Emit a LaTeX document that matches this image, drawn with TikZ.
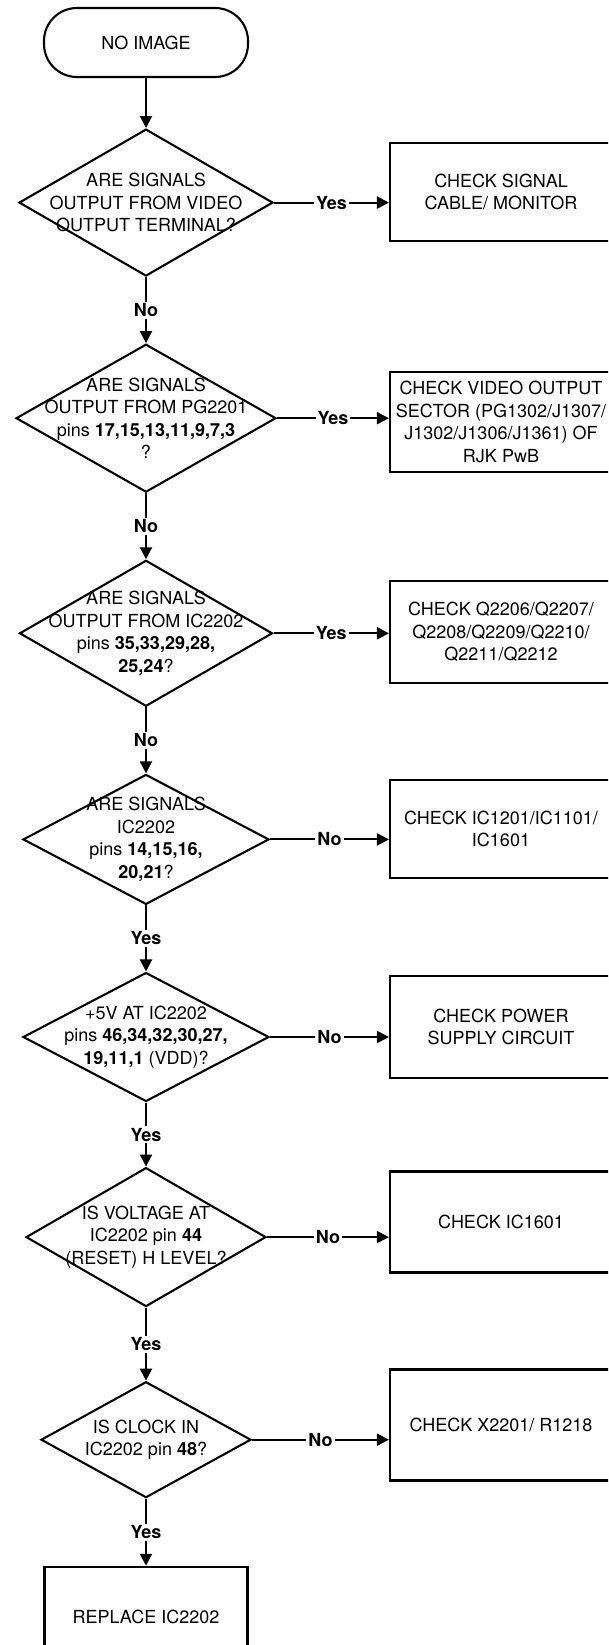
\documentclass[tikz,border=0pt]{standalone}
\usepackage{fontspec}
\setmainfont{TeX Gyre Heros}
\usetikzlibrary{arrows.meta,positioning,shapes.geometric}

\begin{document}
\begin{tikzpicture}[
    x=1pt, y=-1pt,
    node distance=66pt,
    every node/.style={font=\fontsize{18}{22.5}\selectfont},
    termbox/.style={
      rectangle, rounded corners=33pt, draw, line width=2.1pt,
      minimum width=204pt, minimum height=69pt
    },
    askbox/.style 2 args={
      diamond, draw, line width=2.1pt, inner sep=0pt,
      minimum width=#1, minimum height=#2
    },
    asktext/.style={align=center, inner sep=0pt},
    checkbox/.style={
      rectangle, draw, line width=2.1pt, inner sep=3pt,
      minimum width=222pt, minimum height=#1, align=center
    },
    flowarr/.style={-{Triangle[length=12pt,width=12pt]}, line width=2.1pt},
    ynlabel/.style={fill=white, inner sep=2pt, font=\fontsize{18}{22}\selectfont\bfseries}
  ]
    \useasboundingbox (0,0) rectangle (608,1645);
    \clip (0,0) rectangle (608,1645);

    % -- main column --
    \node[termbox] (t0) at (146,42.5) {NO IMAGE};
    \node[askbox={254pt}{147pt}, below=50pt of t0,
      label={[asktext]center:{ARE SIGNALS\\OUTPUT FROM VIDEO\\OUTPUT TERMINAL?}}] (d1) {};
    \node[askbox={260pt}{148pt}, below=of d1,
      label={[asktext]center:{ARE SIGNALS\\OUTPUT FROM PG2201\\pins \textbf{17,15,13,11,9,7,3}\\?}}] (d2) {};
    \node[askbox={253pt}{146pt}, below=of d2,
      label={[asktext]center:{ARE SIGNALS\\OUTPUT FROM IC2202\\pins \textbf{35,33,29,28,}\\\textbf{25,24}?}}] (d3) {};
    \node[askbox={246pt}{130pt}, below=of d3,
      label={[asktext]center:{ARE SIGNALS\\IC2202\\pins \textbf{14,15,16,}\\\textbf{20,21}?}}] (d4) {};
    \node[askbox={246pt}{129pt}, below=of d4,
      label={[asktext]center:{+5V AT IC2202\\pins \textbf{46,34,32,30,27,}\\\textbf{19,11,1} (VDD)?}}] (d5) {};
    \node[askbox={240pt}{139pt}, below=64pt of d5,
      label={[asktext]center:{IS VOLTAGE AT\\IC2202 pin \textbf{44}\\(RESET) H LEVEL?}}] (d6) {};
    \node[askbox={210pt}{116pt}, below=73pt of d6,
      label={[asktext]center:{IS CLOCK IN\\IC2202 pin \textbf{48}?}}] (d7) {};
    \node[checkbox=100pt, minimum width=203pt, below=67pt of d7] (b8) {REPLACE IC2202};

    % -- check boxes (right column) --
    \node[checkbox=98pt] (c1) at (501,192) {CHECK SIGNAL\\CABLE/ MONITOR};
    \node[checkbox=100pt] (c2) at (501,422) {CHECK VIDEO OUTPUT\\SECTOR (PG1302/J1307/\\J1302/J1306/J1361) OF\\RJK PwB};
    \node[checkbox=102pt] (c3) at (501,632) {CHECK Q2206/Q2207/\\Q2208/Q2209/Q2210/\\Q2211/Q2212};
    \node[checkbox=98pt] (c4) at (501,829) {CHECK IC1201/IC1101/\\IC1601};
    \node[checkbox=102pt] (c5) at (501,1027) {CHECK POWER\\SUPPLY CIRCUIT};
    \node[checkbox=101pt] (c6) at (501,1222) {CHECK IC1601};
    \node[checkbox=111pt] (c7) at (501,1425) {CHECK X2201/ R1218};

    % -- down the column --
    \draw[flowarr] (t0) -- (d1);
    \draw[flowarr] (d1) -- node[ynlabel] {No} (d2);
    \draw[flowarr] (d2) -- node[ynlabel] {No} (d3);
    \draw[flowarr] (d3) -- node[ynlabel] {No} (d4);
    \draw[flowarr] (d4) -- node[ynlabel] {Yes} (d5);
    \draw[flowarr] (d5) -- node[ynlabel] {Yes} (d6);
    \draw[flowarr] (d6) -- node[ynlabel] {Yes} (d7);
    \draw[flowarr] (d7) -- node[ynlabel] {Yes} (b8);

    % -- across to the checks --
    \draw[flowarr] (d1.east) -- node[ynlabel] {Yes} (d1.east -| c1.west);
    \draw[flowarr] (d2.east) -- node[ynlabel] {Yes} (d2.east -| c2.west);
    \draw[flowarr] (d3.east) -- node[ynlabel] {Yes} (d3.east -| c3.west);
    \draw[flowarr] (d4.east) -- node[ynlabel] {No} (d4.east -| c4.west);
    \draw[flowarr] (d5.east) -- node[ynlabel] {No} (d5.east -| c5.west);
    \draw[flowarr] (d6.east) -- node[ynlabel] {No} (d6.east -| c6.west);
    \draw[flowarr] (d7.east) -- node[ynlabel] {No} (d7.east -| c7.west);
\end{tikzpicture}
\end{document}
